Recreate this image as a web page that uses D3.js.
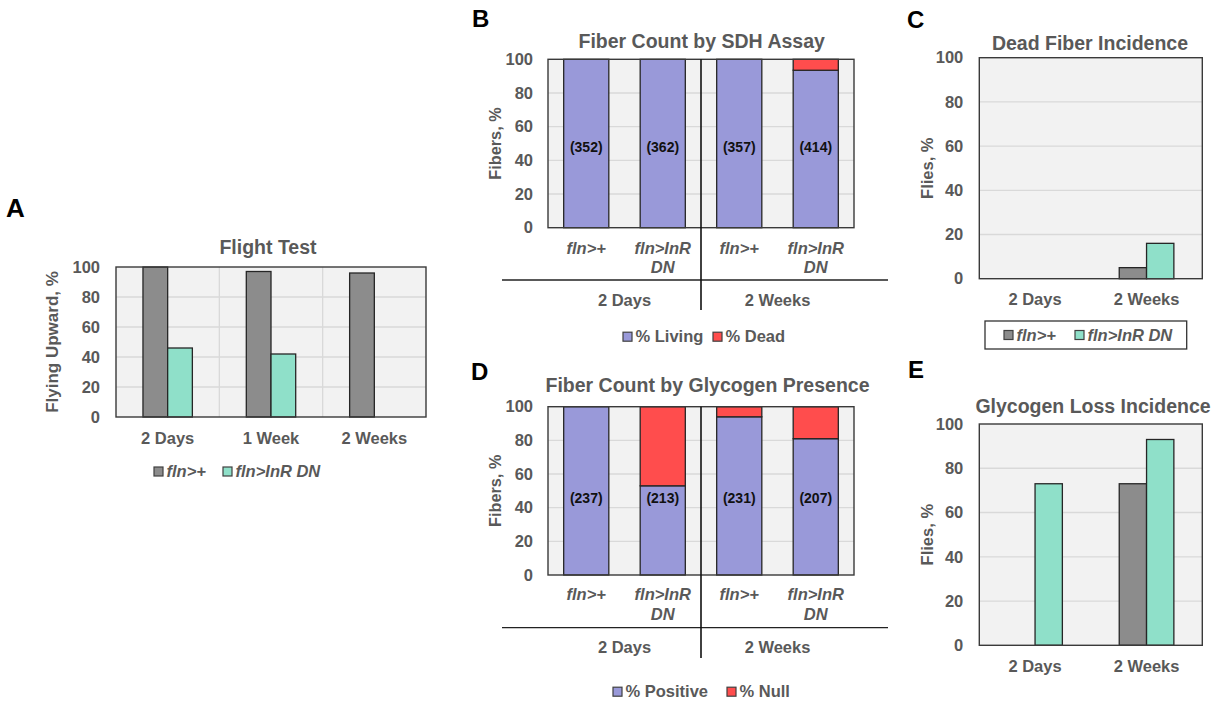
<!DOCTYPE html>
<html>
<head>
<meta charset="utf-8">
<script src="https://cdn.jsdelivr.net/npm/d3@7"></script>
<style>
  body { margin: 0; background: #fff; }
  svg text { font-family: "Liberation Sans", Arial, sans-serif; font-weight: bold; }
</style>
</head>
<body>
<div id="fig"></div>
<script>
// ---- data ----
const yTicks = [0, 20, 40, 60, 80, 100];
const genotypes = ["fln>+", "fln>InR DN"];

// A: flight test
const flightAges = ["2 Days", "1 Week", "2 Weeks"];
const flightCtrl = [100, 97, 96];
const flightInR = [46, 42, 0];

// B: SDH assay (stacked %, 4 bars = 2 ages x 2 genotypes)
const ageGroups = ["2 Days", "2 Weeks"];
const sdhLiving = [100, 100, 100, 93.5];
const sdhDead = [0, 0, 0, 6.5];
const sdhCounts = ["(352)", "(362)", "(357)", "(414)"];

// C: dead fiber incidence
const deadCtrl = [0, 5];
const deadInR = [0, 16];

// D: glycogen presence
const glyPositive = [100, 53, 94, 81];
const glyNull = [0, 47, 6, 19];
const glyCounts = ["(237)", "(213)", "(231)", "(207)"];

// E: glycogen loss incidence
const lossCtrl = [0, 73];
const lossInR = [73, 93];

// ---- styles ----
const grey = "#8c8c8c", teal = "#8fe0c9", lilac = "#9999d9", red = "#ff4d4d";
const txtCol = "#595959", edge = "#3a3a3a";

const svg = d3.select("#fig").append("svg")
    .attr("width", 1225)
    .attr("height", 704);

// panel letters
[["A", 6, 217, 26], ["B", 472, 27, 24], ["C", 907, 28, 24], ["D", 471, 380, 24], ["E", 908, 378, 24]]
    .forEach(function (l) {
        svg.append("text").attr("x", l[1]).attr("y", l[2])
            .attr("font-size", l[3] + "px").attr("fill", "#000").text(l[0]);
    });

// common frame: background, gridlines, y axis, title, y label
function frame(p) {
    const g = svg.append("g").attr("transform", `translate(${p.left},${p.top})`);
    const y = d3.scaleLinear().domain([0, 100]).range([p.h, 0]);

    g.append("rect").attr("width", p.w).attr("height", p.h).attr("fill", "#f2f2f2");

    g.append("g").selectAll("line")
        .data(yTicks.filter(t => t > 0 && t < 100))
        .enter().append("line")
        .attr("x1", 0).attr("x2", p.w)
        .attr("y1", d => y(d)).attr("y2", d => y(d))
        .attr("stroke", "#d9d9d9").attr("stroke-width", 1.3);

    const ax = g.append("g")
        .call(d3.axisLeft(y).tickValues(yTicks).tickSize(0).tickPadding(p.tickPad));
    ax.select(".domain").remove();
    ax.selectAll("text").attr("font-size", "16.5px").attr("fill", txtCol)
        .attr("font-family", null);

    svg.append("text")
        .attr("x", p.titleX).attr("y", p.titleY)
        .attr("text-anchor", "middle")
        .attr("font-size", "19.5px").attr("fill", txtCol)
        .text(p.title);

    svg.append("text")
        .attr("transform", "rotate(-90)")
        .attr("x", -(p.top + p.h / 2)).attr("y", p.ylabX)
        .attr("text-anchor", "middle")
        .attr("font-size", p.ylabSize + "px").attr("fill", txtCol)
        .text(p.ylab);

    return {g: g, y: y};
}

function border(f, p) {
    f.g.append("rect").attr("width", p.w).attr("height", p.h)
        .attr("fill", "none").attr("stroke", edge).attr("stroke-width", 1.4);
}

// clustered bar panel (A, C, E)
function clustered(p, cats, series) {
    const f = frame(p);
    const x = d3.scaleBand().domain(cats).range([0, p.w]);
    const bw = x.bandwidth() * p.barFrac;

    if (p.vgrid) {
        f.g.append("g").selectAll("line")
            .data(cats.slice(1))
            .enter().append("line")
            .attr("x1", d => x(d)).attr("x2", d => x(d))
            .attr("y1", 0).attr("y2", p.h)
            .attr("stroke", "#d9d9d9").attr("stroke-width", 1.3);
    }

    series.forEach(function (s, i) {
        const rows = cats.map((c, j) => ({cat: c, v: s.vals[j]})).filter(d => d.v > 0);
        f.g.append("g").selectAll("rect")
            .data(rows)
            .enter().append("rect")
            .attr("x", d => x(d.cat) + x.bandwidth() / 2 - bw + i * bw)
            .attr("y", d => f.y(d.v))
            .attr("width", bw)
            .attr("height", d => p.h - f.y(d.v))
            .attr("fill", s.color)
            .attr("stroke", "#262626").attr("stroke-width", 1.3);
    });

    const xa = f.g.append("g")
        .attr("transform", `translate(0,${p.h})`)
        .call(d3.axisBottom(x).tickSize(0));
    xa.select(".domain").remove();
    xa.selectAll("text").attr("y", p.xlabBase).attr("dy", null)
        .attr("font-size", "16.5px").attr("fill", txtCol).attr("font-family", null);

    border(f, p);
    return f;
}

// stacked percentage panel (B, D)
function stacked(p, lower, upper, counts, colors) {
    const f = frame(p);
    const idx = d3.range(lower.length);
    const x = d3.scaleBand().domain(idx).range([0, p.w]).paddingInner(0.41).paddingOuter(0.205);

    const rows = idx.map(i => ({i: i, a: lower[i], b: upper[i]}));
    const layers = d3.stack().keys(["a", "b"])(rows);

    f.g.append("g").selectAll("g")
        .data(layers)
        .enter().append("g")
        .attr("fill", (d, k) => colors[k])
        .selectAll("rect")
        .data(d => d.filter(s => s[1] - s[0] > 0))
        .enter().append("rect")
        .attr("x", d => x(d.data.i))
        .attr("y", d => f.y(d[1]))
        .attr("width", x.bandwidth())
        .attr("height", d => f.y(d[0]) - f.y(d[1]))
        .attr("stroke", "#262626").attr("stroke-width", 1.3);

    f.g.append("g").selectAll("text")
        .data(counts)
        .enter().append("text")
        .attr("x", (d, i) => x(i) + x.bandwidth() / 2)
        .attr("y", f.y(p.countAt))
        .attr("dy", "0.35em")
        .attr("text-anchor", "middle")
        .attr("font-size", "14px").attr("fill", "#111")
        .text(d => d);

    border(f, p);

    // genotype labels under each bar (italic, wrapped)
    const cat = f.g.append("g").selectAll("text")
        .data(idx)
        .enter().append("text")
        .attr("text-anchor", "middle")
        .attr("font-style", "italic")
        .attr("font-size", "16.5px").attr("fill", txtCol);
    cat.each(function (i) {
        const words = genotypes[i % 2].split(" ");
        const t = d3.select(this);
        const cx = x(i) + x.bandwidth() / 2;
        words.forEach(function (w, k) {
            t.append("tspan").attr("x", cx).attr("y", p.h + p.catBase + k * p.lineH).text(w);
        });
    });

    // age group labels
    f.g.append("g").selectAll("text")
        .data(ageGroups)
        .enter().append("text")
        .attr("x", (d, k) => (k + 0.5) * p.w / 2)
        .attr("y", p.h + p.groupBase)
        .attr("text-anchor", "middle")
        .attr("font-size", "16.5px").attr("fill", txtCol)
        .text(d => d);

    // separators
    f.g.append("line")
        .attr("x1", p.sepL).attr("x2", p.w + p.sepR)
        .attr("y1", p.h + p.sepY).attr("y2", p.h + p.sepY)
        .attr("stroke", "#222").attr("stroke-width", 1.3);
    f.g.append("line")
        .attr("x1", p.w / 2).attr("x2", p.w / 2)
        .attr("y1", 0).attr("y2", p.h + p.divBottom)
        .attr("stroke", "#111").attr("stroke-width", 1.6);
    return f;
}

function legend(y, items, boxed) {
    const lg = svg.append("g");
    if (boxed) {
        lg.append("rect").attr("x", boxed[0]).attr("y", boxed[1])
            .attr("width", boxed[2]).attr("height", boxed[3])
            .attr("fill", "#fff").attr("stroke", "#333").attr("stroke-width", 1.3);
    }
    items.forEach(function (it) {
        lg.append("rect").attr("x", it.x).attr("y", y - 4.5)
            .attr("width", 9).attr("height", 9)
            .attr("fill", it.color).attr("stroke", "#404040").attr("stroke-width", 1.2);
        lg.append("text").attr("x", it.x + 12.5).attr("y", y).attr("dy", "0.35em")
            .attr("font-size", "16.5px").attr("fill", txtCol)
            .attr("font-style", it.italic ? "italic" : null)
            .text(it.label);
    });
}

// ---- A ----
clustered({
    left: 116, top: 267, w: 310, h: 150, tickPad: 16,
    title: "Flight Test", titleX: 268, titleY: 254,
    ylab: "Flying Upward, %", ylabX: 58, ylabSize: 17,
    xlabBase: 27, vgrid: true, barFrac: 0.239
}, flightAges, [{vals: flightCtrl, color: grey}, {vals: flightInR, color: teal}]);
legend(471.5, [
    {x: 154, label: genotypes[0], color: grey, italic: true},
    {x: 223, label: genotypes[1], color: teal, italic: true}
]);

// ---- B ----
stacked({
    left: 548, top: 59.3, w: 306, h: 168.4, tickPad: 15,
    title: "Fiber Count by SDH Assay", titleX: 701.7, titleY: 48,
    ylab: "Fibers, %", ylabX: 501, ylabSize: 16.3,
    countAt: 48, catBase: 26.3, lineH: 19.5, groupBase: 78.3,
    sepY: 52.3, sepL: -46, sepR: 34, divBottom: 82.3
}, sdhLiving, sdhDead, sdhCounts, [lilac, red]);
legend(336.7, [
    {x: 623, label: "% Living", color: lilac},
    {x: 713, label: "% Dead", color: red}
]);

// ---- C ----
clustered({
    left: 979.3, top: 57.7, w: 223, h: 221, tickPad: 16,
    title: "Dead Fiber Incidence", titleX: 1090, titleY: 50,
    ylab: "Flies, %", ylabX: 932.5, ylabSize: 16.5,
    xlabBase: 26.3, vgrid: false, barFrac: 0.245
}, ageGroups, [{vals: deadCtrl, color: grey}, {vals: deadInR, color: teal}]);
legend(335, [
    {x: 1004, label: genotypes[0], color: grey, italic: true},
    {x: 1075, label: genotypes[1], color: teal, italic: true}
], [985, 321, 201.7, 28]);

// ---- D ----
stacked({
    left: 548, top: 406.7, w: 306, h: 168.3, tickPad: 15,
    title: "Fiber Count by Glycogen Presence", titleX: 707.5, titleY: 392,
    ylab: "Fibers, %", ylabX: 501, ylabSize: 16.3,
    countAt: 45.6, catBase: 25, lineH: 20.5, groupBase: 78.3,
    sepY: 52.7, sepL: -46, sepR: 34, divBottom: 83
}, glyPositive, glyNull, glyCounts, [lilac, red]);
legend(691.7, [
    {x: 613, label: "% Positive", color: lilac},
    {x: 727, label: "% Null", color: red}
]);

// ---- E ----
clustered({
    left: 979.3, top: 424, w: 223, h: 221.3, tickPad: 16,
    title: "Glycogen Loss Incidence", titleX: 1093, titleY: 413.3,
    ylab: "Flies, %", ylabX: 932.5, ylabSize: 16.5,
    xlabBase: 26.7, vgrid: false, barFrac: 0.245
}, ageGroups, [{vals: lossCtrl, color: grey}, {vals: lossInR, color: teal}]);
</script>
</body>
</html>
